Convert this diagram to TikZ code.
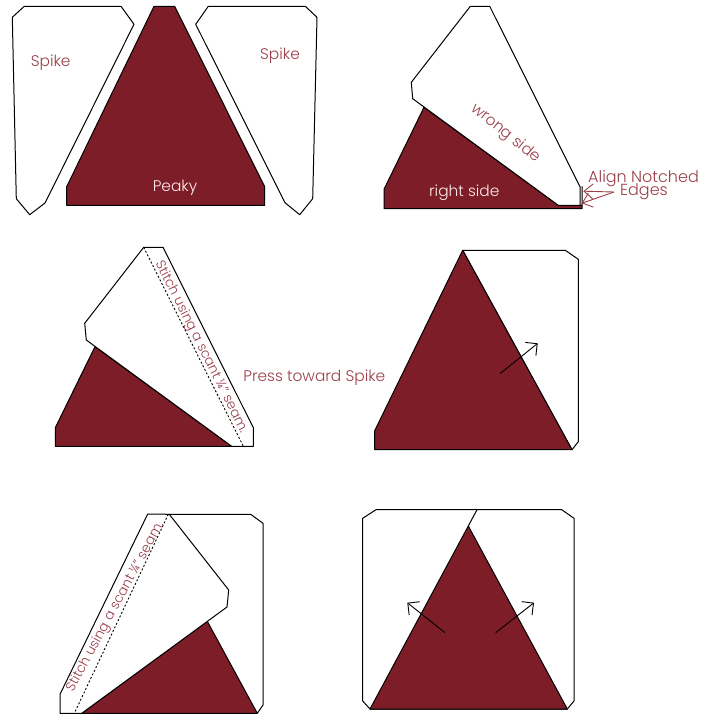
\documentclass[tikz,border=0pt]{standalone}
\usepackage{fontspec}
\setmainfont{Poppins Light}
\usetikzlibrary{arrows.meta}
\definecolor{peakyred}{HTML}{7C1D27}
\definecolor{labelred}{HTML}{9A3F4B}
\tikzset{
  patch/.style={draw=black, line width=1pt, line join=round, fill=white},
  peaky/.style={draw=black, line width=1pt, line join=round, fill=peakyred},
  seam/.style={dash pattern=on 2pt off 2pt, line width=0.9pt},
  label/.style={text=labelred, font=\fontsize{15.4}{16}\selectfont, inner sep=0pt},
  notelabel/.style={text=labelred, font=\fontsize{16}{17}\selectfont, inner sep=0pt},
  stitchlabel/.style={text=labelred, font=\fontsize{13.4}{14}\selectfont, inner sep=0pt},
  onred/.style={text=red!8!white, font=\fontsize{15.4}{16}\selectfont, inner sep=0pt},
  press/.style={-{Straight Barb[length=8.5pt,width=17pt]}, line width=0.9pt},
  pointer/.style={-{Straight Barb[length=9pt,width=15pt]}, draw=labelred, line width=0.9pt},
}
\begin{document}
\begin{tikzpicture}[x=1pt, y=-1pt]
  \useasboundingbox (0,0) rectangle (707,714);
  % Pieces laid out
  \draw[patch] (24.3,6.3) -- (121,6.3) -- (134,24.3) -- (45,203) -- (29.7,214.7) -- (16.3,198.7) -- (12.3,17.3) -- cycle;
  \draw[peaky] (154,6.3) -- (174.7,6.3) -- (264.7,186.7) -- (264.7,205.3) -- (66.7,205.3) -- (66.7,186.7) -- cycle;
  \draw[patch] (208.3,6.3) -- (305.3,6.3) -- (317,17.3) -- (312.7,198.7) -- (299.7,214.7) -- (285,202.7) -- (195.7,24.3) -- cycle;
  \node[label] (spikeleft) at (50.7,62.5) {Spike};
  \node[label] (spikeright) at (280,55.7) {Spike};
  \node[onred] (peakylabel) at (175,187.5) {Peaky};
  % Spike placed on Peaky
  \draw[peaky] (384,189.3) -- (424,107.3) -- (558.3,205.3) -- (582,205.3) -- (582,186.7) -- (582,208.7) -- (384,208.7) -- cycle;
  \draw[patch] (470.3,6.3) -- (489.7,6.3) -- (580,186.7) -- (580,205.3) -- (558.3,205.3) -- (412.7,98.7) -- (411.3,82.3) -- cycle;
  \node[label, rotate=-39] (wrongside) at (505.5,133.5) {wrong side};
  \node[onred] (rightside) at (464.3,192.5) {right side};
  \node[notelabel] (alignlabel) at (643.5,178.5) {Align Notched};
  \node[notelabel] (edgeslabel) at (644,192) {Edges};
  \coordinate (notchtop) at (583.3,191.2);
  \coordinate (notchlow) at (581.7,203.3);
  \draw[pointer] ([xshift=-6pt]edgeslabel.west) -- (notchtop);
  \draw[pointer] ([xshift=-6pt]edgeslabel.west) -- (notchlow);
  % Stitch line
  \draw[peaky] (55.3,427.7) -- (95,346.7) -- (231.7,446.3) -- (55.3,446.3) -- cycle;
  \draw[patch] (143.7,247.3) -- (163,247.3) -- (253.3,427.7) -- (253.3,446.3) -- (231.7,446.3) -- (86.3,340) -- (84.7,323.3) -- cycle;
  \coordinate (seamtop) at (143.7,247.3);
  \coordinate (seamlow) at (243.3,446.3);
  \draw[seam] (seamtop) -- (seamlow);
  \node[stitchlabel, rotate=-63.3] (stitchright) at (201,347) {Stitch using a scant ¼" seam.};
  \node[label] (presslabel) at (314.3,378) {Press toward Spike};
  % Pressed open
  \draw[patch] (462.7,250.3) -- (565.3,250.3) -- (578.3,259.3) -- (578.3,441.7) -- (572,449.7) -- cycle;
  \draw[peaky] (374.7,430.7) -- (462.7,250.3) -- (572,449.7) -- (374.7,449.7) -- cycle;
  \coordinate (pressfrom) at (500,373.7);
  \coordinate (pressto) at (537.7,343.3);
  \draw[press] (pressfrom) -- (pressto);
  % Second Spike
  \draw[patch] (169.3,514.3) -- (250.7,514.3) -- (263,523.3) -- (263,705) -- (257.3,713.3) -- (81.7,713.3) -- cycle;
  \draw[peaky] (81.7,713.3) -- (207.3,621.3) -- (257.3,713.3) -- cycle;
  \draw[patch] (147.7,514) -- (169.3,514.3) -- (228.7,590) -- (227,607) -- (81.7,713.3) -- (60,713.3) -- (60,694.3) -- cycle;
  \coordinate (seamtwotop) at (168.3,514.3);
  \coordinate (seamtwolow) at (74.3,713.3);
  \draw[seam] (seamtwotop) -- (seamtwolow);
  \node[stitchlabel, rotate=61.6] (stitchleft) at (115.5,607) {Stitch using a scant ¼" seam.};
  % Finished unit
  \draw[patch] (376,509.7) -- (561.7,509.7) -- (574,518.3) -- (574,701) -- (567.3,709) -- (370,709) -- (362.7,701) -- (362.7,518.3) -- cycle;
  \draw[peaky] (370,709) -- (468.3,526) -- (567.3,709) -- cycle;
  \coordinate (joinedge) at (477,509.7);
  \coordinate (peakytip) at (468.3,526);
  \draw[line width=1pt] (joinedge) -- (peakytip);
  \coordinate (pressleftfrom) at (445,632.7);
  \coordinate (pressleftto) at (407.3,602.7);
  \coordinate (pressrightfrom) at (495.7,632.7);
  \coordinate (pressrightto) at (534,602.7);
  \draw[press] (pressleftfrom) -- (pressleftto);
  \draw[press] (pressrightfrom) -- (pressrightto);
\end{tikzpicture}
\end{document}
